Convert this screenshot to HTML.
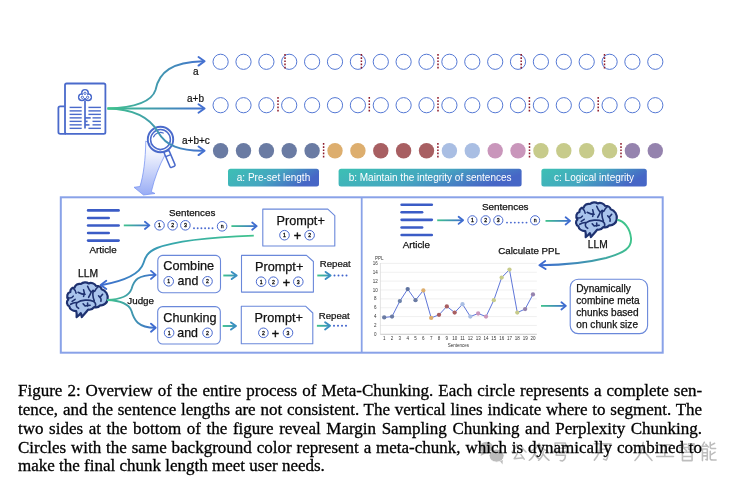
<!DOCTYPE html>
<html><head><meta charset="utf-8">
<style>
html,body{margin:0;padding:0;background:#fff;width:741px;height:482px;overflow:hidden;}
#fig,.cap{will-change:transform;}
#fig{position:absolute;left:0;top:0;}
.cap{position:absolute;left:18.1px;width:684.1px;font-family:"Liberation Serif",serif;font-size:17px;line-height:18.8px;color:#000;-webkit-text-stroke:0.3px #000;white-space:nowrap;}
.j{text-align:justify;text-align-last:justify;}
</style></head><body>
<svg id="fig" width="741" height="482" viewBox="0 0 741 482" font-family="Liberation Sans, sans-serif">
<circle cx="220.6" cy="61.8" r="7.6" fill="none" stroke="#5478d4" stroke-width="1.0"/>
<circle cx="243.5" cy="61.8" r="7.6" fill="none" stroke="#5478d4" stroke-width="1.0"/>
<circle cx="266.4" cy="61.8" r="7.6" fill="none" stroke="#5478d4" stroke-width="1.0"/>
<circle cx="289.2" cy="61.8" r="7.6" fill="none" stroke="#5478d4" stroke-width="1.0"/>
<circle cx="312.1" cy="61.8" r="7.6" fill="none" stroke="#5478d4" stroke-width="1.0"/>
<circle cx="335.0" cy="61.8" r="7.6" fill="none" stroke="#5478d4" stroke-width="1.0"/>
<circle cx="357.9" cy="61.8" r="7.6" fill="none" stroke="#5478d4" stroke-width="1.0"/>
<circle cx="380.8" cy="61.8" r="7.6" fill="none" stroke="#5478d4" stroke-width="1.0"/>
<circle cx="403.6" cy="61.8" r="7.6" fill="none" stroke="#5478d4" stroke-width="1.0"/>
<circle cx="426.5" cy="61.8" r="7.6" fill="none" stroke="#5478d4" stroke-width="1.0"/>
<circle cx="449.4" cy="61.8" r="7.6" fill="none" stroke="#5478d4" stroke-width="1.0"/>
<circle cx="472.3" cy="61.8" r="7.6" fill="none" stroke="#5478d4" stroke-width="1.0"/>
<circle cx="495.2" cy="61.8" r="7.6" fill="none" stroke="#5478d4" stroke-width="1.0"/>
<circle cx="518.0" cy="61.8" r="7.6" fill="none" stroke="#5478d4" stroke-width="1.0"/>
<circle cx="540.9" cy="61.8" r="7.6" fill="none" stroke="#5478d4" stroke-width="1.0"/>
<circle cx="563.8" cy="61.8" r="7.6" fill="none" stroke="#5478d4" stroke-width="1.0"/>
<circle cx="586.7" cy="61.8" r="7.6" fill="none" stroke="#5478d4" stroke-width="1.0"/>
<circle cx="609.6" cy="61.8" r="7.6" fill="none" stroke="#5478d4" stroke-width="1.0"/>
<circle cx="632.4" cy="61.8" r="7.6" fill="none" stroke="#5478d4" stroke-width="1.0"/>
<circle cx="655.3" cy="61.8" r="7.6" fill="none" stroke="#5478d4" stroke-width="1.0"/>
<circle cx="220.6" cy="105.2" r="7.6" fill="none" stroke="#5478d4" stroke-width="1.0"/>
<circle cx="243.5" cy="105.2" r="7.6" fill="none" stroke="#5478d4" stroke-width="1.0"/>
<circle cx="266.4" cy="105.2" r="7.6" fill="none" stroke="#5478d4" stroke-width="1.0"/>
<circle cx="289.2" cy="105.2" r="7.6" fill="none" stroke="#5478d4" stroke-width="1.0"/>
<circle cx="312.1" cy="105.2" r="7.6" fill="none" stroke="#5478d4" stroke-width="1.0"/>
<circle cx="335.0" cy="105.2" r="7.6" fill="none" stroke="#5478d4" stroke-width="1.0"/>
<circle cx="357.9" cy="105.2" r="7.6" fill="none" stroke="#5478d4" stroke-width="1.0"/>
<circle cx="380.8" cy="105.2" r="7.6" fill="none" stroke="#5478d4" stroke-width="1.0"/>
<circle cx="403.6" cy="105.2" r="7.6" fill="none" stroke="#5478d4" stroke-width="1.0"/>
<circle cx="426.5" cy="105.2" r="7.6" fill="none" stroke="#5478d4" stroke-width="1.0"/>
<circle cx="449.4" cy="105.2" r="7.6" fill="none" stroke="#5478d4" stroke-width="1.0"/>
<circle cx="472.3" cy="105.2" r="7.6" fill="none" stroke="#5478d4" stroke-width="1.0"/>
<circle cx="495.2" cy="105.2" r="7.6" fill="none" stroke="#5478d4" stroke-width="1.0"/>
<circle cx="518.0" cy="105.2" r="7.6" fill="none" stroke="#5478d4" stroke-width="1.0"/>
<circle cx="540.9" cy="105.2" r="7.6" fill="none" stroke="#5478d4" stroke-width="1.0"/>
<circle cx="563.8" cy="105.2" r="7.6" fill="none" stroke="#5478d4" stroke-width="1.0"/>
<circle cx="586.7" cy="105.2" r="7.6" fill="none" stroke="#5478d4" stroke-width="1.0"/>
<circle cx="609.6" cy="105.2" r="7.6" fill="none" stroke="#5478d4" stroke-width="1.0"/>
<circle cx="632.4" cy="105.2" r="7.6" fill="none" stroke="#5478d4" stroke-width="1.0"/>
<circle cx="655.3" cy="105.2" r="7.6" fill="none" stroke="#5478d4" stroke-width="1.0"/>
<circle cx="220.6" cy="150.8" r="7.7" fill="#6a7ba3"/>
<circle cx="243.5" cy="150.8" r="7.7" fill="#6a7ba3"/>
<circle cx="266.4" cy="150.8" r="7.7" fill="#6a7ba3"/>
<circle cx="289.2" cy="150.8" r="7.7" fill="#6a7ba3"/>
<circle cx="312.1" cy="150.8" r="7.7" fill="#6a7ba3"/>
<circle cx="335.0" cy="150.8" r="7.7" fill="#ddae6e"/>
<circle cx="357.9" cy="150.8" r="7.7" fill="#ddae6e"/>
<circle cx="380.8" cy="150.8" r="7.7" fill="#a85f62"/>
<circle cx="403.6" cy="150.8" r="7.7" fill="#a85f62"/>
<circle cx="426.5" cy="150.8" r="7.7" fill="#a85f62"/>
<circle cx="449.4" cy="150.8" r="7.7" fill="#a9bee3"/>
<circle cx="472.3" cy="150.8" r="7.7" fill="#a9bee3"/>
<circle cx="495.2" cy="150.8" r="7.7" fill="#c996bb"/>
<circle cx="518.0" cy="150.8" r="7.7" fill="#c996bb"/>
<circle cx="540.9" cy="150.8" r="7.7" fill="#c7cb8b"/>
<circle cx="563.8" cy="150.8" r="7.7" fill="#c7cb8b"/>
<circle cx="586.7" cy="150.8" r="7.7" fill="#c7cb8b"/>
<circle cx="609.6" cy="150.8" r="7.7" fill="#c7cb8b"/>
<circle cx="632.4" cy="150.8" r="7.7" fill="#9583ae"/>
<circle cx="655.3" cy="150.8" r="7.7" fill="#9583ae"/>
<line x1="285.0" y1="54" x2="285.0" y2="70" stroke="#8e1b2b" stroke-width="1.5" stroke-dasharray="1.7 1.5"/>
<line x1="361.4" y1="54" x2="361.4" y2="70" stroke="#8e1b2b" stroke-width="1.5" stroke-dasharray="1.7 1.5"/>
<line x1="438.0" y1="54" x2="438.0" y2="70" stroke="#8e1b2b" stroke-width="1.5" stroke-dasharray="1.7 1.5"/>
<line x1="521.2" y1="54" x2="521.2" y2="70" stroke="#8e1b2b" stroke-width="1.5" stroke-dasharray="1.7 1.5"/>
<line x1="604.5" y1="54" x2="604.5" y2="70" stroke="#8e1b2b" stroke-width="1.5" stroke-dasharray="1.7 1.5"/>
<line x1="278.0" y1="97" x2="278.0" y2="113" stroke="#8e1b2b" stroke-width="1.5" stroke-dasharray="1.7 1.5"/>
<line x1="369.3" y1="97" x2="369.3" y2="113" stroke="#8e1b2b" stroke-width="1.5" stroke-dasharray="1.7 1.5"/>
<line x1="438.0" y1="97" x2="438.0" y2="113" stroke="#8e1b2b" stroke-width="1.5" stroke-dasharray="1.7 1.5"/>
<line x1="529.4" y1="97" x2="529.4" y2="113" stroke="#8e1b2b" stroke-width="1.5" stroke-dasharray="1.7 1.5"/>
<line x1="598.2" y1="97" x2="598.2" y2="113" stroke="#8e1b2b" stroke-width="1.5" stroke-dasharray="1.7 1.5"/>
<line x1="323.6" y1="143" x2="323.6" y2="159" stroke="#8e1b2b" stroke-width="1.5" stroke-dasharray="1.7 1.5"/>
<line x1="437.9" y1="143" x2="437.9" y2="159" stroke="#8e1b2b" stroke-width="1.5" stroke-dasharray="1.7 1.5"/>
<line x1="529.5" y1="143" x2="529.5" y2="159" stroke="#8e1b2b" stroke-width="1.5" stroke-dasharray="1.7 1.5"/>
<line x1="621.0" y1="143" x2="621.0" y2="159" stroke="#8e1b2b" stroke-width="1.5" stroke-dasharray="1.7 1.5"/>
<defs>
<linearGradient id="gA" x1="0" y1="0" x2="1" y2="0"><stop offset="0" stop-color="#3fc38c"/><stop offset="1" stop-color="#3f6fd0"/></linearGradient>
<linearGradient id="gAu" gradientUnits="userSpaceOnUse" x1="107" y1="0" x2="205" y2="0"><stop offset="0" stop-color="#3fc38c"/><stop offset="1" stop-color="#4470d0"/></linearGradient>
<linearGradient id="gBtn" x1="0" y1="0" x2="1" y2="0.3"><stop offset="0" stop-color="#3cc0b4"/><stop offset="0.55" stop-color="#45a6c0"/><stop offset="1" stop-color="#4666c6"/></linearGradient>
<linearGradient id="gFun" x1="0" y1="0" x2="0" y2="1"><stop offset="0" stop-color="#ffffff"/><stop offset="0.25" stop-color="#eef1fd"/><stop offset="1" stop-color="#98acf5"/></linearGradient>
</defs>
<g fill="none" stroke="#4a6acb" stroke-width="1.8" stroke-linejoin="round">
<path d="M64.7,106.3 H60.2 Q58.4,106.3 58.4,108.1 V132 Q58.4,133.8 60.2,133.8 H66"/>
<rect x="65" y="83.5" width="40.4" height="50.3" rx="1.6"/>
</g>
<g fill="none" stroke="#4a6acb" stroke-width="1.1">
<circle cx="85" cy="93" r="3.2" stroke-width="1.6"/><circle cx="81.9" cy="97.2" r="3.2" stroke-width="1.6"/><circle cx="88.1" cy="97.2" r="3.2" stroke-width="1.6"/>
<circle cx="85" cy="93" r="2.4" fill="#fff" stroke="none"/><circle cx="81.9" cy="97.2" r="2.4" fill="#fff" stroke="none"/><circle cx="88.1" cy="97.2" r="2.4" fill="#fff" stroke="none"/><circle cx="85" cy="95.8" r="2.4" fill="#fff" stroke="none"/>
<circle cx="85" cy="93.3" r="1.15" stroke-width="1"/><circle cx="82.4" cy="97.3" r="1.15" stroke-width="1"/><circle cx="87.6" cy="97.3" r="1.15" stroke-width="1"/>
</g>
<g stroke="#4a6acb" stroke-width="1.4">
<line x1="69.6" y1="107.40" x2="81.7" y2="107.40"/>
<line x1="88.4" y1="107.40" x2="100.9" y2="107.40"/>
<line x1="69.6" y1="110.89" x2="81.7" y2="110.89"/>
<line x1="88.4" y1="110.89" x2="100.9" y2="110.89"/>
<line x1="69.6" y1="114.38" x2="81.7" y2="114.38"/>
<line x1="88.4" y1="114.38" x2="100.9" y2="114.38"/>
<line x1="69.6" y1="117.87" x2="81.7" y2="117.87"/>
<line x1="92.5" y1="117.87" x2="100.9" y2="117.87"/>
<line x1="69.6" y1="121.36" x2="81.7" y2="121.36"/>
<line x1="92.5" y1="121.36" x2="100.9" y2="121.36"/>
<line x1="69.6" y1="124.85" x2="81.7" y2="124.85"/>
<line x1="92.5" y1="124.85" x2="100.9" y2="124.85"/>
<line x1="69.6" y1="128.34" x2="81.7" y2="128.34"/>
<line x1="88.4" y1="128.34" x2="100.9" y2="128.34"/>
</g>
<line x1="85" y1="100.4" x2="85" y2="128.5" stroke="#4a6acb" stroke-width="1.7"/>
<g stroke="#4a6acb" stroke-width="1.6"><line x1="85" y1="117.9" x2="90.7" y2="117.9"/><line x1="85" y1="121.4" x2="87.6" y2="121.4"/><line x1="85" y1="124.9" x2="89.5" y2="124.9"/></g>
<path d="M145.8,141 C145.5,160 143.5,175 140,186.5 L134,187.3 L143.5,195 L155,193.5 L151.3,191.8 C154.5,178 159,166 165.5,154 Z" fill="url(#gFun)" stroke="#7592f2" stroke-width="0.75"/>
<g fill="none" stroke="#4a6acb" stroke-width="1.9">
<circle cx="160.5" cy="139.5" r="12.7"/>
<circle cx="160.5" cy="139.5" r="9.9" stroke-width="1.5"/>
<path d="M153.6,136.8 A7.6,7.6 0 0 1 163.2,133" stroke-width="1.3" stroke-linecap="round"/>
<g transform="translate(166.6,151.8) rotate(-23)"><rect x="-2.7" y="-0.5" width="5.4" height="16.8" rx="1.2" stroke-width="1.5" fill="#fff"/><line x1="-2.7" y1="4.2" x2="2.7" y2="4.2" stroke-width="1.3"/></g>
</g>
<g fill="none" stroke="url(#gAu)" stroke-width="1.9">
<path d="M107.5,108.5 C138,107.5 152,101 155.5,90 C159,72 172,62 203,61.3"/>
<path d="M107.5,108.5 L203,108.5"/>
<path d="M107.5,108.5 C135,109 150,118 158,132 C166,146 180,151 203,150.8"/>
</g>
<g fill="none" stroke="#4470d0" stroke-width="1.9" stroke-linecap="round" stroke-linejoin="round">
<path d="M198.5,57.0 L204.6,61.3 L198.5,65.6"/>
<path d="M198.5,104.2 L204.6,108.5 L198.5,112.8"/>
<path d="M198.5,146.5 L204.6,150.8 L198.5,155.10000000000002"/>
</g>
<g font-size="10" fill="#111" stroke="#111" stroke-width="0.2">
<text x="193" y="74.5">a</text>
<text x="187" y="102.3">a+b</text>
<text x="182" y="144.3">a+b+c</text>
</g>
<rect x="228" y="168.8" width="91" height="17.8" rx="2.5" fill="url(#gBtn)"/>
<text x="273.5" y="181.2" font-size="10" fill="#fff" text-anchor="middle">a: Pre-set length</text>
<rect x="338.6" y="168.8" width="183.0" height="17.8" rx="2.5" fill="url(#gBtn)"/>
<text x="430.1" y="181.2" font-size="10" fill="#fff" text-anchor="middle">b: Maintain the integrity of sentences</text>
<rect x="541.4" y="168.8" width="105.39999999999998" height="17.8" rx="2.5" fill="url(#gBtn)"/>
<text x="594.0999999999999" y="181.2" font-size="10" fill="#fff" text-anchor="middle">c: Logical integrity</text>
<rect x="60.8" y="197.3" width="601.9" height="155.4" fill="none" stroke="#89a2e8" stroke-width="2"/>
<line x1="361.7" y1="197" x2="361.7" y2="352.7" stroke="#89a2e8" stroke-width="1.8"/>
<line x1="88.1" y1="210.40" x2="118.60000000000001" y2="210.40" stroke="#3b5cc6" stroke-width="2.6" stroke-linecap="round"/>
<line x1="88.1" y1="217.95" x2="108.7" y2="217.95" stroke="#3b5cc6" stroke-width="2.6" stroke-linecap="round"/>
<line x1="88.1" y1="225.50" x2="118.60000000000001" y2="225.50" stroke="#3b5cc6" stroke-width="2.6" stroke-linecap="round"/>
<line x1="88.1" y1="233.05" x2="108.7" y2="233.05" stroke="#3b5cc6" stroke-width="2.6" stroke-linecap="round"/>
<line x1="88.1" y1="240.60" x2="118.60000000000001" y2="240.60" stroke="#3b5cc6" stroke-width="2.6" stroke-linecap="round"/>
<text x="89.5" y="253.4" font-size="9.8" fill="#111" stroke="#111" stroke-width="0.25" text-anchor="start">Article</text>
<linearGradient id="ga126" gradientUnits="userSpaceOnUse" x1="123.8" y1="0" x2="149.4" y2="0"><stop offset="0" stop-color="#3fc38c"/><stop offset="1" stop-color="#3f6cd0"/></linearGradient>
<path d="M123.8,225.4 L148.6,225.4" stroke="url(#ga126)" stroke-width="1.8" fill="none"/>
<path d="M144.9,221.8 L149.4,225.4 L144.9,229.0" stroke="#3f6cd0" stroke-width="1.8" fill="none" stroke-linecap="round" stroke-linejoin="round"/>
<circle cx="159.5" cy="225.3" r="4.8" fill="#fff" stroke="#4a6ad0" stroke-width="1"/>
<text x="159.5" y="227.17" font-size="5.2" text-anchor="middle" fill="#111" stroke="#111" stroke-width="0.3">1</text>
<circle cx="172.6" cy="225.3" r="4.8" fill="#fff" stroke="#4a6ad0" stroke-width="1"/>
<text x="172.6" y="227.17" font-size="5.2" text-anchor="middle" fill="#111" stroke="#111" stroke-width="0.3">2</text>
<circle cx="185.4" cy="225.3" r="4.8" fill="#fff" stroke="#4a6ad0" stroke-width="1"/>
<text x="185.4" y="227.17" font-size="5.2" text-anchor="middle" fill="#111" stroke="#111" stroke-width="0.3">3</text>
<circle cx="194.00" cy="228.2" r="0.95" fill="#4a6ad0"/>
<circle cx="197.70" cy="228.2" r="0.95" fill="#4a6ad0"/>
<circle cx="201.40" cy="228.2" r="0.95" fill="#4a6ad0"/>
<circle cx="205.10" cy="228.2" r="0.95" fill="#4a6ad0"/>
<circle cx="208.80" cy="228.2" r="0.95" fill="#4a6ad0"/>
<circle cx="212.50" cy="228.2" r="0.95" fill="#4a6ad0"/>
<circle cx="222.1" cy="226.3" r="4.8" fill="#fff" stroke="#4a6ad0" stroke-width="1"/>
<text x="222.1" y="228.17" font-size="5.2" text-anchor="middle" fill="#111" stroke="#111" stroke-width="0.3">n</text>
<text x="169" y="215.9" font-size="9.8" fill="#111" stroke="#111" stroke-width="0.25" text-anchor="start">Sentences</text>
<linearGradient id="ga144" gradientUnits="userSpaceOnUse" x1="231.4" y1="0" x2="256.7" y2="0"><stop offset="0" stop-color="#3fc38c"/><stop offset="1" stop-color="#3f6cd0"/></linearGradient>
<path d="M231.4,226.1 L255.89999999999998,226.1" stroke="url(#ga144)" stroke-width="1.8" fill="none"/>
<path d="M252.2,222.5 L256.7,226.1 L252.2,229.7" stroke="#3f6cd0" stroke-width="1.8" fill="none" stroke-linecap="round" stroke-linejoin="round"/>
<path d="M262.8,209.1 H327.8 L334.8,215.6 V246 H262.8 Z" fill="#fff" stroke="#6a88da" stroke-width="1.1" stroke-linejoin="round"/>
<text x="276.5" y="225.3" font-size="12.7" fill="#111" stroke="#111" stroke-width="0.25" text-anchor="start">Prompt+</text>
<circle cx="284.5" cy="235.2" r="4.8" fill="#fff" stroke="#4a6ad0" stroke-width="1"/>
<text x="284.5" y="237.07" font-size="5.2" text-anchor="middle" fill="#111" stroke="#111" stroke-width="0.3">1</text>
<text x="297.3" y="240.1" font-size="12.5" fill="#111" stroke="#111" stroke-width="0.5" text-anchor="middle">+</text>
<circle cx="309.6" cy="235.2" r="4.8" fill="#fff" stroke="#4a6ad0" stroke-width="1"/>
<text x="309.6" y="237.07" font-size="5.2" text-anchor="middle" fill="#111" stroke="#111" stroke-width="0.3">2</text>
<linearGradient id="gBack" gradientUnits="userSpaceOnUse" x1="254" y1="235" x2="100" y2="285"><stop offset="0" stop-color="#3fc38c"/><stop offset="0.5" stop-color="#37a8ac"/><stop offset="1" stop-color="#3f6cd0"/></linearGradient>
<path d="M253.8,235.6 C215,237 175,241 157,248 C147,252 145,258 143.5,263 C141,271 130,280 101,285.2" fill="none" stroke="url(#gBack)" stroke-width="1.9"/>
<path d="M106.3,280.8 L100.7,285.1 L106.3,289" fill="none" stroke="#3f6cd0" stroke-width="1.9" stroke-linecap="round" stroke-linejoin="round"/>
<g transform="translate(63.1,278.8)"><path d="M13.5,38.3 C13.8,36 13.6,34 13.1,32.3 C9.5,32 6.5,30 6.2,27.5 C3.5,26.5 3,22.5 5.2,20.8 C3.2,18 4,14 7.2,13.2 C7,10.5 9,8.5 11.5,8.8 C12,6 15,4.5 17.8,5.2 C20,3.2 23.5,3 25.5,4.6 C28,3.5 31.5,4.5 32.8,7 C35.5,6.8 38,8.5 38.5,10.5 C42.5,11.5 45.5,16 44.5,20.5 C44,24.5 40.5,27 37.2,26.5 C35.5,28.5 33,29 31,28.3 C29.5,30.5 27,31.2 25,30.8 C23,33.5 20.5,36 18.7,38.3 C18.2,36.8 18.3,35.5 17.6,34.3 C16.5,35.8 15,37.2 13.5,38.3 Z" fill="#a9c4ec" stroke="#1e3170" stroke-width="2.2" stroke-linejoin="round"/><path d="M7.5,25.5 C10,24 12,23.5 14,23.8 C18,21 26,20.5 30,22.5 C32,23.5 33,25.5 32.2,27.9 M14,23.8 C12.5,26 13,28.5 15.5,29.5 M20,25 L22,27.2 M24.5,24.2 L24.5,27.5 M22,27.2 L27,26.5 M30.5,12 C29,15 30,19 31.2,22 M35.2,7.8 C33.5,9 32.5,10.5 31.5,12.5 M35.5,17 C37.5,18.5 38.5,20 37.8,22.5 M39.5,15.5 L37,18.5 M10.5,9.8 C12,11 13,12.5 13,14.5 M15,13.5 C17,14.5 19,16 22,15.5 M20.5,11 C21.5,13 21.5,15 20.5,17.5 M24.5,7.5 C25.5,10 26.5,12 28,13.5 M28,13.5 L30,11.5 M28,13.5 C27.5,15 26.5,17 25.5,18.5 M5.3,19 C7,19.5 9,19 10.2,17.3 M9,22.5 L12,20.5" fill="none" stroke="#1e3170" stroke-width="1.6" stroke-linecap="round"/></g>
<text x="78" y="277.2" font-size="10.3" fill="#111" stroke="#111" stroke-width="0.25" text-anchor="start">LLM</text>
<linearGradient id="gJ" gradientUnits="userSpaceOnUse" x1="108" y1="0" x2="156" y2="0"><stop offset="0" stop-color="#3fc38c"/><stop offset="1" stop-color="#3f6cd0"/></linearGradient>
<path d="M107,300 C120,299.5 129,296 131.5,289 C134,280 138,274.9 155,274.9" fill="none" stroke="url(#gJ)" stroke-width="1.9"/>
<path d="M107,300 C120,300.5 129,304 131.5,311 C134,320 138,327.7 155,327.7" fill="none" stroke="url(#gJ)" stroke-width="1.9"/>
<path d="M151,270.9 L155.7,274.9 L151,278.9" fill="none" stroke="#3f6cd0" stroke-width="1.9" stroke-linecap="round" stroke-linejoin="round"/>
<path d="M151,323.7 L155.7,327.7 L151,331.7" fill="none" stroke="#3f6cd0" stroke-width="1.9" stroke-linecap="round" stroke-linejoin="round"/>
<text x="127.3" y="304" font-size="9.8" fill="#111" stroke="#111" stroke-width="0.25" text-anchor="start">Judge</text>
<rect x="157.8" y="255.4" width="62.69999999999999" height="37.29999999999998" rx="5" fill="#fff" stroke="#6a88da" stroke-width="1.1"/>
<text x="163.3" y="270" font-size="12.7" fill="#111" stroke="#111" stroke-width="0.25" text-anchor="start">Combine</text>
<circle cx="168.7" cy="281.3" r="4.8" fill="#fff" stroke="#4a6ad0" stroke-width="1"/>
<text x="168.7" y="283.17" font-size="5.2" text-anchor="middle" fill="#111" stroke="#111" stroke-width="0.3">1</text>
<text x="177.6" y="285.3" font-size="12.4" fill="#111" stroke="#111" stroke-width="0.25" text-anchor="start">and</text>
<circle cx="207.5" cy="281.3" r="4.8" fill="#fff" stroke="#4a6ad0" stroke-width="1"/>
<text x="207.5" y="283.17" font-size="5.2" text-anchor="middle" fill="#111" stroke="#111" stroke-width="0.3">2</text>
<linearGradient id="gt172" gradientUnits="userSpaceOnUse" x1="223.3" y1="0" x2="236.7" y2="0"><stop offset="0" stop-color="#3fc38c"/><stop offset="1" stop-color="#3a8fc0"/></linearGradient>
<path d="M223.3,275.5 L235.7,275.5" stroke="url(#gt172)" stroke-width="1.9" fill="none"/>
<path d="M231.7,271.9 L236.7,275.5 L231.7,279.1" stroke="#3a8fc0" stroke-width="1.9" fill="none" stroke-linecap="round" stroke-linejoin="round"/>
<path d="M241.5,255.4 H306.5 L313.4,261.5 V292.1 H241.5 Z" fill="#fff" stroke="#6a88da" stroke-width="1.1" stroke-linejoin="round"/>
<text x="255" y="271.2" font-size="12.7" fill="#111" stroke="#111" stroke-width="0.25" text-anchor="start">Prompt+</text>
<circle cx="261.1" cy="281.7" r="4.8" fill="#fff" stroke="#4a6ad0" stroke-width="1"/>
<text x="261.1" y="283.57" font-size="5.2" text-anchor="middle" fill="#111" stroke="#111" stroke-width="0.3">1</text>
<circle cx="273.4" cy="281.7" r="4.8" fill="#fff" stroke="#4a6ad0" stroke-width="1"/>
<text x="273.4" y="283.57" font-size="5.2" text-anchor="middle" fill="#111" stroke="#111" stroke-width="0.3">2</text>
<text x="286.4" y="286.6" font-size="12.5" fill="#111" stroke="#111" stroke-width="0.5" text-anchor="middle">+</text>
<circle cx="298.3" cy="281.7" r="4.8" fill="#fff" stroke="#4a6ad0" stroke-width="1"/>
<text x="298.3" y="283.57" font-size="5.2" text-anchor="middle" fill="#111" stroke="#111" stroke-width="0.3">3</text>
<text x="319.8" y="267.3" font-size="9.6" fill="#111" stroke="#111" stroke-width="0.22" text-anchor="start">Repeat</text>
<linearGradient id="gt185" gradientUnits="userSpaceOnUse" x1="317.3" y1="0" x2="330.6" y2="0"><stop offset="0" stop-color="#3fc38c"/><stop offset="1" stop-color="#3a8fc0"/></linearGradient>
<path d="M317.3,275.5 L329.6,275.5" stroke="url(#gt185)" stroke-width="1.9" fill="none"/>
<path d="M325.6,271.9 L330.6,275.5 L325.6,279.1" stroke="#3a8fc0" stroke-width="1.9" fill="none" stroke-linecap="round" stroke-linejoin="round"/>
<circle cx="334.50" cy="275.5" r="1.0" fill="#3f62cc"/>
<circle cx="338.50" cy="275.5" r="1.0" fill="#3f62cc"/>
<circle cx="342.50" cy="275.5" r="1.0" fill="#3f62cc"/>
<circle cx="346.50" cy="275.5" r="1.0" fill="#3f62cc"/>
<rect x="157.7" y="306.6" width="62.60000000000002" height="37.39999999999998" rx="5" fill="#fff" stroke="#6a88da" stroke-width="1.1"/>
<text x="163.3" y="321.7" font-size="12.6" fill="#111" stroke="#111" stroke-width="0.25" text-anchor="start">Chunking</text>
<circle cx="169.1" cy="332.8" r="4.8" fill="#fff" stroke="#4a6ad0" stroke-width="1"/>
<text x="169.1" y="334.67" font-size="5.2" text-anchor="middle" fill="#111" stroke="#111" stroke-width="0.3">1</text>
<text x="177.3" y="336.8" font-size="12.4" fill="#111" stroke="#111" stroke-width="0.25" text-anchor="start">and</text>
<circle cx="207.5" cy="332.8" r="4.8" fill="#fff" stroke="#4a6ad0" stroke-width="1"/>
<text x="207.5" y="334.67" font-size="5.2" text-anchor="middle" fill="#111" stroke="#111" stroke-width="0.3">2</text>
<linearGradient id="gt199" gradientUnits="userSpaceOnUse" x1="222.7" y1="0" x2="236" y2="0"><stop offset="0" stop-color="#3fc38c"/><stop offset="1" stop-color="#3a8fc0"/></linearGradient>
<path d="M222.7,326 L235,326" stroke="url(#gt199)" stroke-width="1.9" fill="none"/>
<path d="M231,322.4 L236,326 L231,329.6" stroke="#3a8fc0" stroke-width="1.9" fill="none" stroke-linecap="round" stroke-linejoin="round"/>
<path d="M241.3,306.3 H305.8 L312.8,313 V343.7 H241.3 Z" fill="#fff" stroke="#6a88da" stroke-width="1.1" stroke-linejoin="round"/>
<text x="254.6" y="322" font-size="12.7" fill="#111" stroke="#111" stroke-width="0.25" text-anchor="start">Prompt+</text>
<circle cx="263.4" cy="332.8" r="4.8" fill="#fff" stroke="#4a6ad0" stroke-width="1"/>
<text x="263.4" y="334.67" font-size="5.2" text-anchor="middle" fill="#111" stroke="#111" stroke-width="0.3">2</text>
<text x="275.3" y="337.7" font-size="12.5" fill="#111" stroke="#111" stroke-width="0.5" text-anchor="middle">+</text>
<circle cx="288" cy="332.8" r="4.8" fill="#fff" stroke="#4a6ad0" stroke-width="1"/>
<text x="288" y="334.67" font-size="5.2" text-anchor="middle" fill="#111" stroke="#111" stroke-width="0.3">3</text>
<text x="318.8" y="318.6" font-size="9.6" fill="#111" stroke="#111" stroke-width="0.22" text-anchor="start">Repeat</text>
<linearGradient id="gt210" gradientUnits="userSpaceOnUse" x1="316.9" y1="0" x2="330.1" y2="0"><stop offset="0" stop-color="#3fc38c"/><stop offset="1" stop-color="#3a8fc0"/></linearGradient>
<path d="M316.9,325.8 L329.1,325.8" stroke="url(#gt210)" stroke-width="1.9" fill="none"/>
<path d="M325.1,322.2 L330.1,325.8 L325.1,329.40000000000003" stroke="#3a8fc0" stroke-width="1.9" fill="none" stroke-linecap="round" stroke-linejoin="round"/>
<circle cx="334.00" cy="325.8" r="1.0" fill="#3f62cc"/>
<circle cx="338.00" cy="325.8" r="1.0" fill="#3f62cc"/>
<circle cx="342.00" cy="325.8" r="1.0" fill="#3f62cc"/>
<circle cx="346.00" cy="325.8" r="1.0" fill="#3f62cc"/>
<line x1="401.6" y1="204.70" x2="431.79999999999995" y2="204.70" stroke="#3b5cc6" stroke-width="2.6" stroke-linecap="round"/>
<line x1="401.6" y1="212.28" x2="422.09999999999997" y2="212.28" stroke="#3b5cc6" stroke-width="2.6" stroke-linecap="round"/>
<line x1="401.6" y1="219.86" x2="431.79999999999995" y2="219.86" stroke="#3b5cc6" stroke-width="2.6" stroke-linecap="round"/>
<line x1="401.6" y1="227.44" x2="422.09999999999997" y2="227.44" stroke="#3b5cc6" stroke-width="2.6" stroke-linecap="round"/>
<line x1="401.6" y1="235.02" x2="431.79999999999995" y2="235.02" stroke="#3b5cc6" stroke-width="2.6" stroke-linecap="round"/>
<text x="402.7" y="247.9" font-size="9.8" fill="#111" stroke="#111" stroke-width="0.25" text-anchor="start">Article</text>
<linearGradient id="ga223" gradientUnits="userSpaceOnUse" x1="437.2" y1="0" x2="463.1" y2="0"><stop offset="0" stop-color="#3fc38c"/><stop offset="1" stop-color="#3f6cd0"/></linearGradient>
<path d="M437.2,220.3 L462.3,220.3" stroke="url(#ga223)" stroke-width="1.8" fill="none"/>
<path d="M458.6,216.70000000000002 L463.1,220.3 L458.6,223.9" stroke="#3f6cd0" stroke-width="1.8" fill="none" stroke-linecap="round" stroke-linejoin="round"/>
<circle cx="472.4" cy="220.3" r="4.6" fill="#fff" stroke="#4a6ad0" stroke-width="1"/>
<text x="472.4" y="222.17" font-size="5.2" text-anchor="middle" fill="#111" stroke="#111" stroke-width="0.3">1</text>
<circle cx="485.6" cy="220.3" r="4.6" fill="#fff" stroke="#4a6ad0" stroke-width="1"/>
<text x="485.6" y="222.17" font-size="5.2" text-anchor="middle" fill="#111" stroke="#111" stroke-width="0.3">2</text>
<circle cx="498.3" cy="220.3" r="4.6" fill="#fff" stroke="#4a6ad0" stroke-width="1"/>
<text x="498.3" y="222.17" font-size="5.2" text-anchor="middle" fill="#111" stroke="#111" stroke-width="0.3">3</text>
<circle cx="507.00" cy="222.6" r="0.95" fill="#4a6ad0"/>
<circle cx="510.90" cy="222.6" r="0.95" fill="#4a6ad0"/>
<circle cx="514.80" cy="222.6" r="0.95" fill="#4a6ad0"/>
<circle cx="518.70" cy="222.6" r="0.95" fill="#4a6ad0"/>
<circle cx="522.60" cy="222.6" r="0.95" fill="#4a6ad0"/>
<circle cx="526.50" cy="222.6" r="0.95" fill="#4a6ad0"/>
<circle cx="535.1" cy="220.3" r="4.6" fill="#fff" stroke="#4a6ad0" stroke-width="1"/>
<text x="535.1" y="222.17" font-size="5.2" text-anchor="middle" fill="#111" stroke="#111" stroke-width="0.3">n</text>
<text x="481.9" y="210.1" font-size="9.9" fill="#111" stroke="#111" stroke-width="0.25" text-anchor="start">Sentences</text>
<linearGradient id="ga241" gradientUnits="userSpaceOnUse" x1="545.5" y1="0" x2="570.1" y2="0"><stop offset="0" stop-color="#3fc38c"/><stop offset="1" stop-color="#3f6cd0"/></linearGradient>
<path d="M545.5,220.9 L569.3000000000001,220.9" stroke="url(#ga241)" stroke-width="1.8" fill="none"/>
<path d="M565.6,217.3 L570.1,220.9 L565.6,224.5" stroke="#3f6cd0" stroke-width="1.8" fill="none" stroke-linecap="round" stroke-linejoin="round"/>
<g transform="translate(572.2,198.8)"><path d="M13.5,38.3 C13.8,36 13.6,34 13.1,32.3 C9.5,32 6.5,30 6.2,27.5 C3.5,26.5 3,22.5 5.2,20.8 C3.2,18 4,14 7.2,13.2 C7,10.5 9,8.5 11.5,8.8 C12,6 15,4.5 17.8,5.2 C20,3.2 23.5,3 25.5,4.6 C28,3.5 31.5,4.5 32.8,7 C35.5,6.8 38,8.5 38.5,10.5 C42.5,11.5 45.5,16 44.5,20.5 C44,24.5 40.5,27 37.2,26.5 C35.5,28.5 33,29 31,28.3 C29.5,30.5 27,31.2 25,30.8 C23,33.5 20.5,36 18.7,38.3 C18.2,36.8 18.3,35.5 17.6,34.3 C16.5,35.8 15,37.2 13.5,38.3 Z" fill="#a9c4ec" stroke="#1e3170" stroke-width="2.2" stroke-linejoin="round"/><path d="M7.5,25.5 C10,24 12,23.5 14,23.8 C18,21 26,20.5 30,22.5 C32,23.5 33,25.5 32.2,27.9 M14,23.8 C12.5,26 13,28.5 15.5,29.5 M20,25 L22,27.2 M24.5,24.2 L24.5,27.5 M22,27.2 L27,26.5 M30.5,12 C29,15 30,19 31.2,22 M35.2,7.8 C33.5,9 32.5,10.5 31.5,12.5 M35.5,17 C37.5,18.5 38.5,20 37.8,22.5 M39.5,15.5 L37,18.5 M10.5,9.8 C12,11 13,12.5 13,14.5 M15,13.5 C17,14.5 19,16 22,15.5 M20.5,11 C21.5,13 21.5,15 20.5,17.5 M24.5,7.5 C25.5,10 26.5,12 28,13.5 M28,13.5 L30,11.5 M28,13.5 C27.5,15 26.5,17 25.5,18.5 M5.3,19 C7,19.5 9,19 10.2,17.3 M9,22.5 L12,20.5" fill="none" stroke="#1e3170" stroke-width="1.6" stroke-linecap="round"/></g>
<text x="587.8" y="247.9" font-size="10.2" fill="#111" stroke="#111" stroke-width="0.25" text-anchor="start">LLM</text>
<linearGradient id="gR" gradientUnits="userSpaceOnUse" x1="617" y1="220" x2="540" y2="265"><stop offset="0" stop-color="#3fc38c"/><stop offset="1" stop-color="#3f6cd0"/></linearGradient>
<path d="M617.2,219.8 C624,221 630,228 631,238 C632,248 624,253 606,258 C590,262 565,265 540,265.2" fill="none" stroke="url(#gR)" stroke-width="1.9"/>
<path d="M545.2,261 L539.4,265.2 L545.6,269" fill="none" stroke="#3f6cd0" stroke-width="1.9" stroke-linecap="round" stroke-linejoin="round"/>
<text x="498.2" y="253.7" font-size="9.75" fill="#111" stroke="#111" stroke-width="0.25" text-anchor="start">Calculate PPL</text>
<linearGradient id="ga250" gradientUnits="userSpaceOnUse" x1="541" y1="0" x2="565.9" y2="0"><stop offset="0" stop-color="#3fc38c"/><stop offset="1" stop-color="#3f6cd0"/></linearGradient>
<path d="M541,305.9 L565.1,305.9" stroke="url(#ga250)" stroke-width="1.8" fill="none"/>
<path d="M561.4,302.29999999999995 L565.9,305.9 L561.4,309.5" stroke="#3f6cd0" stroke-width="1.8" fill="none" stroke-linecap="round" stroke-linejoin="round"/>
<rect x="570.2" y="279.3" width="77.39999999999998" height="54.30000000000001" rx="8" fill="#fff" stroke="#6a88da" stroke-width="1.1"/>
<text x="576.3" y="292.3" font-size="10.1" fill="#111" stroke="#111" stroke-width="0.25" text-anchor="start">Dynamically</text>
<text x="576.3" y="304.05" font-size="10.1" fill="#111" stroke="#111" stroke-width="0.25" text-anchor="start">combine meta</text>
<text x="576.3" y="315.8" font-size="10.1" fill="#111" stroke="#111" stroke-width="0.25" text-anchor="start">chunks based</text>
<text x="576.3" y="327.55" font-size="10.1" fill="#111" stroke="#111" stroke-width="0.25" text-anchor="start">on chunk size</text>
<g stroke="#e6e6e6" stroke-width="0.6">
<line x1="380.4" y1="334.30" x2="536.8" y2="334.30"/>
<line x1="380.4" y1="325.44" x2="536.8" y2="325.44"/>
<line x1="380.4" y1="316.58" x2="536.8" y2="316.58"/>
<line x1="380.4" y1="307.72" x2="536.8" y2="307.72"/>
<line x1="380.4" y1="298.86" x2="536.8" y2="298.86"/>
<line x1="380.4" y1="290.00" x2="536.8" y2="290.00"/>
<line x1="380.4" y1="281.14" x2="536.8" y2="281.14"/>
<line x1="380.4" y1="272.28" x2="536.8" y2="272.28"/>
<line x1="380.4" y1="263.42" x2="536.8" y2="263.42"/>
</g>
<line x1="380.4" y1="263" x2="380.4" y2="334.3" stroke="#cfcfcf" stroke-width="0.6"/>
<line x1="380.4" y1="334.3" x2="536.8" y2="334.3" stroke="#bdbdbd" stroke-width="0.7"/>
<g font-size="4.5" fill="#333" text-anchor="middle">
<text x="375.2" y="335.80">0</text>
<text x="375.2" y="326.94">2</text>
<text x="375.2" y="318.08">4</text>
<text x="375.2" y="309.22">6</text>
<text x="375.2" y="300.36">8</text>
<text x="375.2" y="291.50">10</text>
<text x="375.2" y="282.64">12</text>
<text x="375.2" y="273.78">14</text>
<text x="375.2" y="264.92">16</text>
<text x="384.20" y="340">1</text>
<text x="392.03" y="340">2</text>
<text x="399.86" y="340">3</text>
<text x="407.69" y="340">4</text>
<text x="415.52" y="340">5</text>
<text x="423.35" y="340">6</text>
<text x="431.18" y="340">7</text>
<text x="439.01" y="340">8</text>
<text x="446.84" y="340">9</text>
<text x="454.67" y="340">10</text>
<text x="462.50" y="340">11</text>
<text x="470.33" y="340">12</text>
<text x="478.16" y="340">13</text>
<text x="485.99" y="340">14</text>
<text x="493.82" y="340">15</text>
<text x="501.65" y="340">16</text>
<text x="509.48" y="340">17</text>
<text x="517.31" y="340">18</text>
<text x="525.14" y="340">19</text>
<text x="532.97" y="340">20</text>
<text x="379.3" y="260.2">PPL</text>
<text x="458.4" y="347">Sentences</text>
</g>
<polyline points="384.20,317.47 392.03,316.58 399.86,301.08 407.69,289.11 415.52,300.19 423.35,290.44 431.18,317.91 439.01,314.81 446.84,306.39 454.67,312.59 462.50,304.18 470.33,316.58 478.16,313.48 485.99,316.58 493.82,300.19 501.65,277.60 509.48,269.62 517.31,312.59 525.14,309.05 532.97,294.43" fill="none" stroke="#4d66d4" stroke-width="0.9"/>
<circle cx="384.20" cy="317.47" r="2.15" fill="#6a7ba3"/>
<circle cx="392.03" cy="316.58" r="2.15" fill="#6a7ba3"/>
<circle cx="399.86" cy="301.08" r="2.15" fill="#6d82aa"/>
<circle cx="407.69" cy="289.11" r="2.15" fill="#5f73a0"/>
<circle cx="415.52" cy="300.19" r="2.15" fill="#6a7ba3"/>
<circle cx="423.35" cy="290.44" r="2.15" fill="#ddae6e"/>
<circle cx="431.18" cy="317.91" r="2.15" fill="#ddae6e"/>
<circle cx="439.01" cy="314.81" r="2.15" fill="#a85f62"/>
<circle cx="446.84" cy="306.39" r="2.15" fill="#a85f62"/>
<circle cx="454.67" cy="312.59" r="2.15" fill="#a85f62"/>
<circle cx="462.50" cy="304.18" r="2.15" fill="#a9bee3"/>
<circle cx="470.33" cy="316.58" r="2.15" fill="#a9bee3"/>
<circle cx="478.16" cy="313.48" r="2.15" fill="#c996bb"/>
<circle cx="485.99" cy="316.58" r="2.15" fill="#c996bb"/>
<circle cx="493.82" cy="300.19" r="2.15" fill="#c7cb8b"/>
<circle cx="501.65" cy="277.60" r="2.15" fill="#c7cb8b"/>
<circle cx="509.48" cy="269.62" r="2.15" fill="#c7cb8b"/>
<circle cx="517.31" cy="312.59" r="2.15" fill="#c7cb8b"/>
<circle cx="525.14" cy="309.05" r="2.15" fill="#9583ae"/>
<circle cx="532.97" cy="294.43" r="2.15" fill="#9583ae"/>
<g fill="#bdbdbd"><ellipse cx="486.5" cy="447.8" rx="6.8" ry="6"/><path d="M482,452 L480.5,456 L485.5,453.5 Z"/><ellipse cx="496.6" cy="455.6" rx="7.6" ry="6.6" stroke="#fff" stroke-width="1"/><path d="M500,461 L502.5,464.5 L502.8,460 Z"/></g>
<path d="M6,1 C5,4 3,7 0.5,9 M10,1 C11.5,4 13.5,7 16,9 M7.5,8 C6.5,11 5,14 3,16.5 L13,15.5 M10.5,12 L14,17" transform="translate(511.5,444) scale(0.906,0.889)" fill="none" stroke="#bdbdbd" stroke-width="1.55" vector-effect="non-scaling-stroke" stroke-linecap="round" stroke-linejoin="round"/>
<path d="M8,0.5 C7,4 4,7 1,8.5 M8,2 C9,5 12,7 15,8.5 M4.5,9 C4,13 2.5,16 0,18 M4.5,12 C5.5,14 7,16 8.5,17 M11.5,9 C11,13 9.5,16 7.5,18 M11.5,12 C12.5,14 14,16 16,18" transform="translate(529.3,443) scale(1.231,0.961)" fill="none" stroke="#bdbdbd" stroke-width="1.55" vector-effect="non-scaling-stroke" stroke-linecap="round" stroke-linejoin="round"/>
<path d="M3,1 H13 V6 H3 Z M0.5,9 H16 M5,9 L4,12.5 H13 C13,15 12.5,17 10,18 L8,17.5" transform="translate(552,442) scale(1.031,1.056)" fill="none" stroke="#bdbdbd" stroke-width="1.55" vector-effect="non-scaling-stroke" stroke-linecap="round" stroke-linejoin="round"/>
<circle cx="580.5" cy="451" r="1.1" fill="#bdbdbd"/>
<path d="M0.5,1.5 H16 M6,1.5 C6,8 4,14 0.5,18 M5.5,7 H13.5 C13.5,12 13,16 11.5,18 L9,17" transform="translate(593.8,442.3) scale(1.075,0.989)" fill="none" stroke="#bdbdbd" stroke-width="1.55" vector-effect="non-scaling-stroke" stroke-linecap="round" stroke-linejoin="round"/>
<path d="M8,0.5 C8,7 5,13 0.5,18 M8,6 C10,11 13,15 16,18" transform="translate(634.4,442) scale(1.100,1.028)" fill="none" stroke="#bdbdbd" stroke-width="1.55" vector-effect="non-scaling-stroke" stroke-linecap="round" stroke-linejoin="round"/>
<path d="M1.5,1.5 H14.5 M8,1.5 V15.5 M0.5,15.5 H16" transform="translate(656.2,443.5) scale(1.081,0.833)" fill="none" stroke="#bdbdbd" stroke-width="1.55" vector-effect="non-scaling-stroke" stroke-linecap="round" stroke-linejoin="round"/>
<path d="M3,0.5 L1.5,3.5 M2,2.5 H7.5 M0.5,5.5 H8 M4.5,2.5 C4.5,6 3,8 1,9 M4.5,6 L7.5,8.5 M9.5,2 H15 V7.5 H9.5 Z M3.5,10 H13 V18 H3.5 Z M3.5,14 H13" transform="translate(678.9,441.7) scale(1.013,1.050)" fill="none" stroke="#bdbdbd" stroke-width="1.55" vector-effect="non-scaling-stroke" stroke-linecap="round" stroke-linejoin="round"/>
<path d="M4,0.5 L1.5,4.5 L7,4 M5.5,2.5 L8,5 M2,7 V18 M2,7 H7 V17.5 L5.5,17 M2,10.5 H7 M2,13.5 H7 M10,0.5 V5.5 C10,6.5 11,6.5 15.5,6.5 M14.5,1.5 L10.5,3.5 M10,9 V16 C10,17.5 11,17.5 16,17.5 M15,10 L10.5,12.5" transform="translate(700.5,441.7) scale(0.975,1.050)" fill="none" stroke="#bdbdbd" stroke-width="1.55" vector-effect="non-scaling-stroke" stroke-linecap="round" stroke-linejoin="round"/>
</svg>
<div class="cap j" style="top:382px">Figure 2: Overview of the entire process of Meta-Chunking. Each circle represents a complete sen-</div>
<div class="cap j" style="top:401px">tence, and the sentence lengths are not consistent. The vertical lines indicate where to segment. The</div>
<div class="cap j" style="top:419.5px">two sides at the bottom of the figure reveal Margin Sampling Chunking and Perplexity Chunking.</div>
<div class="cap j" style="top:438.5px">Circles with the same background color represent a meta-chunk, which is dynamically combined to</div>
<div class="cap" style="top:457px">make the final chunk length meet user needs.</div>
</body></html>
